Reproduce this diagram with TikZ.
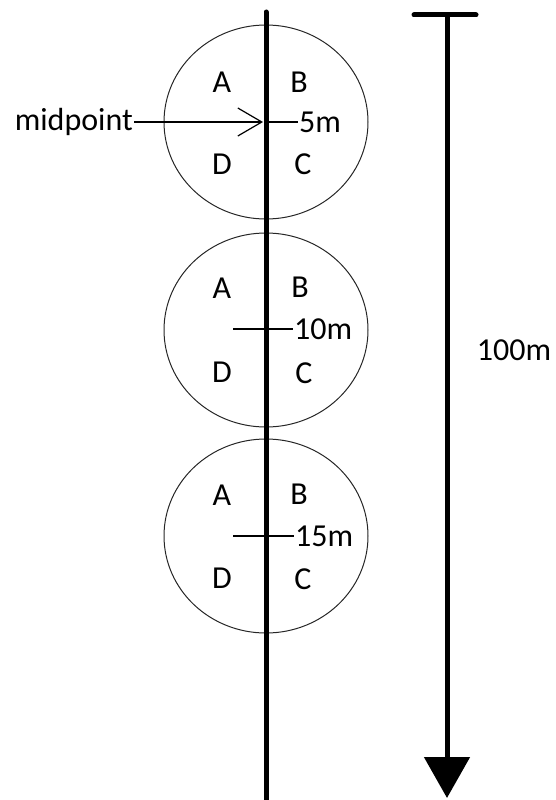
\documentclass[tikz,border=0pt]{standalone}
\usepackage{fontspec}
\setmainfont{Carlito}
\usetikzlibrary{arrows.meta}

\begin{document}
\begin{tikzpicture}[x=1pt,y=-1pt,
  every node/.style={font=\fontsize{32}{36}\selectfont, inner sep=1pt},
  zone/.style={draw=black!85, line width=1pt},
  rope/.style={line width=5pt},
  tick/.style={line width=1.2pt}]
  \useasboundingbox (0,0) rectangle (555,800);

  \coordinate (c1) at (266,122);
  \coordinate (c2) at (266,330);
  \coordinate (c3) at (266,536);

  \draw[zone] (c1) ellipse [x radius=102pt, y radius=97pt];
  \draw[zone] (c2) ellipse [x radius=102pt, y radius=97pt];
  \draw[zone] (c3) ellipse [x radius=102pt, y radius=97pt];

  \coordinate (top) at (266,12);
  \coordinate (bot) at (266,800);
  \draw[rope, line cap=round] (top) -- (bot);

  \node (a1) at (222,82) {A};
  \node (b1) at (299,82) {B};
  \node (d1) at (222,164) {D};
  \node (cc1) at (303,164) {C};

  \node (a2) at (222,288) {A};
  \node (b2) at (300,287) {B};
  \node (d2) at (222,372) {D};
  \node (cc2) at (304,373) {C};

  \node (a3) at (222,495) {A};
  \node (b3) at (299,494) {B};
  \node (d3) at (222,578) {D};
  \node (cc3) at (303,579) {C};

  \node[anchor=east] (mid) at (134,122) {midpoint};
  \node[anchor=west] (l5) at (298,122) {5m};
  \node[anchor=west] (l10) at (293,329) {10m};
  \node[anchor=west] (l15) at (294,536) {15m};

  \coordinate (t2) at (233,329);
  \coordinate (t3) at (233,536);

  \draw[tick, -{Straight Barb[length=24pt, width=28pt]}] (mid.east) -- (263,122);
  \draw[tick] (c1) -- (l5.west);
  \draw[tick] (t2) -- (l10.west);
  \draw[tick] (t3) -- (l15.west);

  % total length
  \coordinate (p) at (447,15);
  \coordinate (q) at (447,798);
  \draw[rope, line cap=round] (414,15) -- (476,15);
  \draw[rope, -{Triangle[length=41pt, width=45pt]}] (p) -- (q);
  \node (len) at (514,350) {100m};
\end{tikzpicture}
\end{document}
